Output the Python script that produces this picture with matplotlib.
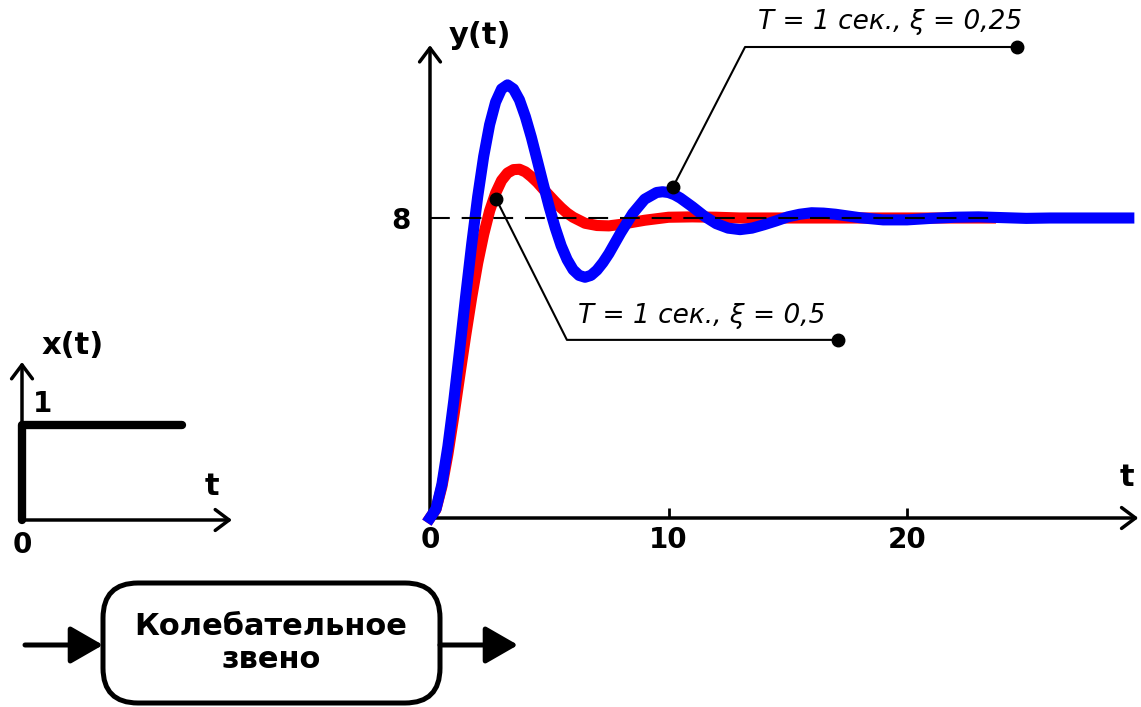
import matplotlib
matplotlib.use('Agg')
import matplotlib.pyplot as plt
from matplotlib.patches import FancyBboxPatch

plt.rcParams['font.family'] = ['DejaVu Sans']

# Переходные характеристики
t_blue = [0, 0.25, 0.5, 0.75, 1, 1.25, 1.5, 1.75, 2, 2.25, 2.5, 2.75, 3, 3.25, 3.5,
          3.75, 4, 4.25, 4.5, 4.75, 5, 5.25, 5.5, 5.75, 6, 6.25, 6.5, 6.75, 7, 7.25,
          7.5, 7.75, 8, 8.5, 9, 9.5, 9.75, 10, 10.25, 10.5, 11, 11.5, 12, 12.5, 13,
          13.5, 14, 14.5, 15, 15.5, 16, 16.5, 17, 18, 19, 20, 21, 22, 23, 24, 25,
          26, 27, 28, 29.3]
y_blue = [0, 0.24, 0.90, 1.91, 3.14, 4.52, 5.94, 7.31, 8.57, 9.64, 10.49, 11.09,
          11.44, 11.55, 11.44, 11.15, 10.70, 10.15, 9.53, 8.90, 8.29, 7.74, 7.26,
          6.89, 6.62, 6.47, 6.42, 6.47, 6.61, 6.81, 7.05, 7.33, 7.61, 8.12, 8.50,
          8.68, 8.70, 8.68, 8.62, 8.53, 8.30, 8.05, 7.85, 7.73, 7.69, 7.73, 7.82,
          7.92, 8.03, 8.10, 8.14, 8.13, 8.10, 8.01, 7.95, 7.95, 7.99, 8.02, 8.03,
          8.01, 7.99, 8.0, 8.0, 8.0, 8.0]

t_red = [0, 0.25, 0.5, 0.75, 1, 1.25, 1.5, 1.75, 2, 2.25, 2.5, 2.75, 3, 3.25, 3.5,
         3.75, 4, 4.25, 4.5, 4.75, 5, 5.25, 5.5, 5.75, 6, 6.5, 7, 7.5, 8, 9, 10,
         11, 12, 13, 14, 16, 18, 20, 22, 23.5]
y_red = [0, 0.23, 0.84, 1.70, 2.72, 3.81, 4.88, 5.89, 6.80, 7.56, 8.19, 8.66, 9.00,
         9.20, 9.29, 9.30, 9.23, 9.10, 8.95, 8.77, 8.60, 8.43, 8.27, 8.13, 8.02,
         7.86, 7.80, 7.79, 7.83, 7.94, 8.02, 8.03, 8.02, 8.00, 8.0, 8.0, 8.0, 8.0,
         8.0, 8.0]

# Входной сигнал - единичная ступенька
t_step = [0, 0, 8]
x_step = [0, 1, 1]

x_ticks = [0, 10, 20]
y_level = 8
label_blue = 'T = 1 сек., ξ = 0,25'
label_red = 'T = 1 сек., ξ = 0,5'

W, H = 1141, 707
fig = plt.figure(figsize=(W / 100, H / 100), dpi=100)


def rect(left, top, w, h):
    return [left / W, 1 - (top + h) / H, w / W, h / H]


arrow_open = dict(arrowstyle='->,head_length=0.4,head_width=0.3', mutation_scale=25,
                  lw=2.5, color='k', shrinkA=0, shrinkB=0)

# Основной график
ax = fig.add_axes(rect(400, 20, 741, 540))
ax.set_facecolor('none')
ax.set_xlim(-30 / 23.85, 711 / 23.85)
ax.set_ylim(-42 / 37.5, 498 / 37.5)
for s in ax.spines.values():
    s.set_color('none')
ax.spines['bottom'].set_position(('data', 0))
ax.spines['left'].set_position(('data', 0))

ax.plot(t_red, y_red, color='#ff0000', lw=8, zorder=3, solid_joinstyle='round')
ax.plot(t_blue, y_blue, color='#0000ff', lw=8, zorder=4, solid_joinstyle='round')
ax.plot([0, 23.5], [y_level, y_level], color='k', lw=1.5, ls=(0, (9.5, 5.7)), zorder=5)

ax.annotate('', xy=(0, 12.61), xytext=(0, 0), arrowprops=arrow_open)
ax.annotate('', xy=(29.7, 0), xytext=(0, 0), arrowprops=arrow_open)

ax.set_xticks(x_ticks)
ax.set_xticklabels([str(v) for v in x_ticks], fontsize=20, fontweight='bold')
ax.tick_params(axis='x', direction='in', length=7, width=2, pad=6)
ax.set_yticks([y_level])
ax.set_yticklabels([str(y_level)], fontsize=20, fontweight='bold')
ax.tick_params(axis='y', length=0, pad=14)

ax.text(2.10, 12.88, 'y(t)', fontsize=22, fontweight='bold', ha='center', va='center')
ax.text(29.22, 1.07, 't', fontsize=22, fontweight='bold', ha='center', va='center')

# Выноски
ax.plot([10.19, 13.21, 24.61], [8.83, 12.56, 12.56], color='k', lw=1.5, zorder=6)
ax.plot([10.19, 24.61], [8.83, 12.56], 'o', ms=9, color='k', zorder=6)
ax.text(24.82, 13.23, label_blue, ha='right', va='center', fontsize=19, style='italic')

ax.plot([2.77, 5.74, 17.11], [8.51, 4.75, 4.75], color='k', lw=1.5, zorder=6)
ax.plot([2.77, 17.11], [8.51, 4.75], 'o', ms=9, color='k', zorder=6)
ax.text(6.21, 5.39, label_red, ha='left', va='center', fontsize=19, style='italic')

# Входной сигнал x(t)
ax2 = fig.add_axes(rect(0, 320, 260, 240))
ax2.set_xlim(-1.1, 11.9)
ax2.set_ylim(-0.421, 2.105)
ax2.axis('off')
ax2.annotate('', xy=(0, 1.663), xytext=(0, 0), arrowprops=arrow_open)
ax2.annotate('', xy=(10.5, 0), xytext=(0, 0), arrowprops=arrow_open)
ax2.plot(t_step, x_step, color='k', lw=6, solid_capstyle='round', solid_joinstyle='round')
ax2.text(2.55, 1.84, 'x(t)', fontsize=22, fontweight='bold', ha='center', va='center')
ax2.text(1.0, 1.22, '1', fontsize=20, fontweight='bold', ha='center', va='center')
ax2.text(9.5, 0.35, 't', fontsize=22, fontweight='bold', ha='center', va='center')
ax2.text(0, -0.26, '0', fontsize=20, fontweight='bold', ha='center', va='center')

# Блок-схема
ax3 = fig.add_axes([0, 0, 1, 1])
ax3.set_xlim(0, W)
ax3.set_ylim(H, 0)
ax3.axis('off')
box = FancyBboxPatch((103, 583), 337, 120, boxstyle='round,pad=0,rounding_size=35',
                     fc='white', ec='k', lw=3.6)
ax3.add_patch(box)
ax3.text(271, 643, 'Колебательное\nзвено', fontsize=22, fontweight='bold',
         ha='center', va='center', linespacing=1.15)
arrow_fill = dict(arrowstyle='-|>,head_length=0.4,head_width=0.23', mutation_scale=50,
                  lw=3.6, color='k', shrinkA=0, shrinkB=0)
ax3.annotate('', xy=(103, 645), xytext=(25, 645), arrowprops=arrow_fill)
ax3.annotate('', xy=(518, 645), xytext=(440, 645), arrowprops=arrow_fill)

fig.savefig('out.png', dpi=100)
